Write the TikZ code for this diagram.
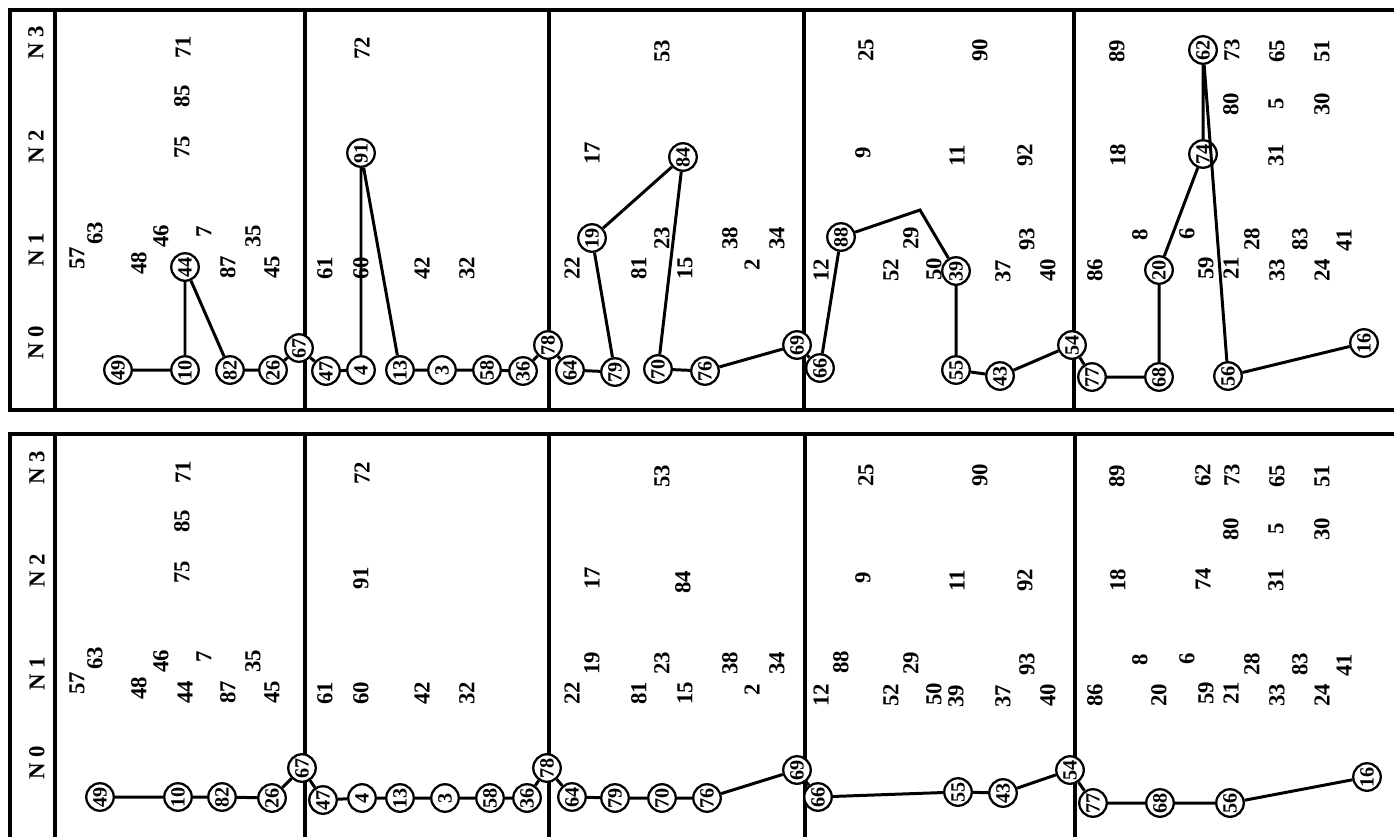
\documentclass[tikz,border=0pt]{standalone}
\usepackage{fontspec}
\setmainfont{Liberation Serif}

% numbers that stay in place in both panels
\newcommand{\freenums}{57/77/258, 63/95/233, 48/139/263, 46/161/236, 7/204/232,
    87/228/267, 35/253/236, 45/272/267, 75/182/147, 85/182/96, 71/183/47,
    72/362/48, 61/325/268, 60/361/268, 42/422/268, 32/467/268,
    53/662/51, 17/592/153, 22/572/268, 81/639/268, 23/662/238, 15/685/268,
    38/730/238, 2/752/265, 34/777/238,
    25/866/50, 90/980/50, 9/863/153, 11/957/156, 92/1025/155, 12/821/270,
    52/891/270, 29/911/238, 50/934/269, 37/1003/271, 93/1027/239, 40/1048/270,
    89/1117/51, 73/1232/50, 65/1277/51, 51/1322/51, 80/1231/104, 5/1276/104,
    30/1322/104, 18/1118/155, 31/1276/155, 8/1140/235, 6/1187/234, 28/1252/239,
    83/1300/239, 41/1344/240, 86/1095/270, 59/1206/268, 21/1231/268,
    33/1277/270, 24/1322/270}
% numbers that the upper path visits
\newcommand{\upnums}{44/185/267, 91/361/153, 19/592/238, 84/683/157,
    88/841/237, 39/956/271, 20/1159/270, 74/1203/154, 62/1203/50}

\begin{document}
\begin{tikzpicture}[
    x=0.02cm, y=-0.02cm,
    num/.style={
        rotate=90,
        inner sep=0.5pt,
        font=\fontsize{13}{15}\selectfont\bfseries
    },
    ring/.style={
        draw,
        circle,
        line width=1.3pt,
        fill=white,
        rotate=90,
        inner sep=0pt,
        minimum size=0.55cm,
        font=\fontsize{11.5}{13}\selectfont\bfseries
    },
    lev/.style={
        rotate=90,
        inner sep=0.5pt,
        font=\fontsize{13}{15}\selectfont\bfseries
    },
    frame/.style={line width=2.2pt, line cap=rect},
    link/.style={line width=1.7pt}
]

    \useasboundingbox (0,0) rectangle (1394,836);

    %%% upper panel
    \draw[frame] (10,410) -- (10,10) -- (1394,10);
    \draw[frame] (10,410) -- (1394,410);
    \draw[frame] (55,10) -- (55,410);
    \foreach \x in {305,549,804,1074}
        \draw[frame] (\x,10) -- (\x,410);

    \foreach \k/\y in {3/43, 2/147, 1/250, 0/343}
        \node[lev] (tN\k) at (36,\y) {N\hspace{3pt}\k};

    \foreach \n/\x/\y in \freenums
        \node[num] (t\n) at (\x,\y) {\n};

    % path nodes
    \foreach \n/\x/\y in \upnums
        \node[ring] (t\n) at (\x,\y) {\n};
    \foreach \n/\x/\y in {49/118/370, 10/185/370, 82/230/370, 26/273/370,
            67/299/348, 47/326/371, 4/361/370, 13/400/370, 3/442/370,
            58/487/370, 36/523/371, 78/548/345, 64/570/370, 79/615/372,
            70/658/369, 76/705/371, 69/797/345, 66/820/368, 55/956/370,
            43/1000/376, 54/1072/345, 77/1092/377, 68/1159/377, 56/1228/376,
            16/1364/343}
        \node[ring] (t\n) at (\x,\y) {\n};
    \coordinate (tbend) at (920,210);

    \draw[link] (t49) -- (t10) -- (t44) -- (t82) -- (t26) -- (t67) -- (t47)
        -- (t4) -- (t91) -- (t13) -- (t3) -- (t58) -- (t36) -- (t78) -- (t64)
        -- (t79) -- (t19) -- (t84) -- (t70) -- (t76) -- (t69) -- (t66) -- (t88)
        -- (tbend) -- (t39) -- (t55) -- (t43) -- (t54) -- (t77) -- (t68)
        -- (t20) -- (t74) -- (t62) -- (t56) -- (t16);

    %%% lower panel
    \begin{scope}[shift={(0,425)}]
        \draw[frame] (10,412) -- (10,9) -- (1394,9);
        \draw[frame] (55,9) -- (55,412);
        \foreach \x in {305,549,805,1075}
            \draw[frame] (\x,9) -- (\x,412);

        \foreach \k/\y in {3/43, 2/146, 1/249, 0/338}
            \node[lev] (bN\k) at (37,\y) {N\hspace{3pt}\k};

        \foreach \n/\x/\y in \freenums
            \node[num] (b\n) at (\x,\y) {\n};
        \foreach \n/\x/\y in \upnums
            \node[num] (b\n) at (\x,\y) {\n};

        % path nodes
        \foreach \n/\x/\y in {49/100/372, 10/178/372, 82/222/372, 26/272/373,
                67/302/343, 47/323/375, 4/362/373, 13/400/373, 3/445/373,
                58/490/373, 36/527/373, 78/547/343, 64/572/372, 79/615/373,
                70/662/373, 76/707/373, 69/797/345, 66/818/372, 55/958/367,
                43/1003/368, 54/1070/345, 77/1093/378, 68/1160/378,
                56/1230/378, 16/1367/352}
            \node[ring] (b\n) at (\x,\y) {\n};

        \draw[link] (b49) -- (b10) -- (b82) -- (b26) -- (b67) -- (b47) -- (b4)
            -- (b13) -- (b3) -- (b58) -- (b36) -- (b78) -- (b64) -- (b79)
            -- (b70) -- (b76) -- (b69) -- (b66) -- (b55) -- (b43) -- (b54)
            -- (b77) -- (b68) -- (b56) -- (b16);
    \end{scope}

\end{tikzpicture}
\end{document}
